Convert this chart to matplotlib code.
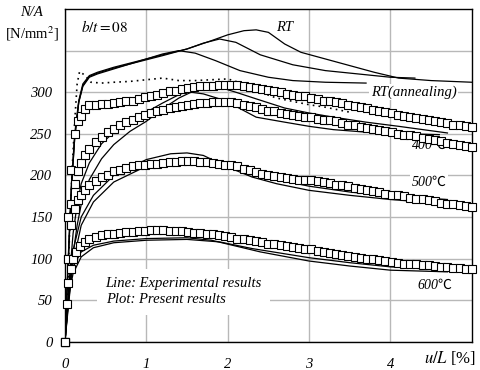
import matplotlib
matplotlib.use("Agg")
import matplotlib.pyplot as plt
import numpy as np

plt.rcParams["font.family"] = ["Liberation Serif", "Noto Sans CJK JP", "DejaVu Sans"]
plt.rcParams["mathtext.fontset"] = "stix"

# ---- experimental results (lines) ----
rt_a_u = [0, 0.04, 0.08, 0.12, 0.17, 0.22, 0.3, 0.4, 0.6, 0.8, 1.0, 1.2, 1.5, 1.8, 2.0, 2.2, 2.35, 2.5, 2.7, 2.9, 3.2, 3.5, 3.8, 4.1, 4.5, 5.0]
rt_a_y = [0, 100, 190, 250, 290, 310, 320, 324, 330, 335, 340, 345, 352, 362, 369, 374, 375, 372, 358, 348, 340, 332, 324, 317, 314, 312]
rt_b_u = [0, 0.04, 0.08, 0.12, 0.17, 0.22, 0.3, 0.4, 0.6, 0.8, 1.0, 1.2, 1.5, 1.7, 1.9, 2.1, 2.4, 2.8, 3.2, 3.6, 4.0, 4.3]
rt_b_y = [0, 95, 185, 245, 288, 308, 319, 323, 329, 334, 339, 344, 352, 359, 364, 360, 345, 333, 326, 322, 318, 317]
rt_c_u = [0, 0.04, 0.08, 0.12, 0.17, 0.22, 0.3, 0.4, 0.6, 0.8, 1.0, 1.2, 1.4, 1.6, 1.85, 2.15, 2.5, 2.8, 3.2, 3.7]
rt_c_y = [0, 95, 185, 245, 288, 307, 318, 322, 328, 334, 340, 346, 350, 347, 338, 326, 318, 314, 312, 311]

ann_u = [0, 0.03, 0.06, 0.09, 0.12, 0.15, 0.18, 0.25, 0.32, 0.45, 0.6, 0.8, 1.0, 1.2, 1.4, 1.6, 1.8, 2.0, 2.2, 2.4, 2.6, 2.8, 3.0, 3.2, 3.5]
ann_y = [0, 50, 140, 210, 265, 310, 325, 320, 312, 311, 312, 313, 315, 317, 314, 314, 315, 316, 310, 300, 293, 289, 285, 282, 276]

t400_a_u = [0, 0.05, 0.1, 0.15, 0.2, 0.3, 0.45, 0.6, 0.8, 1.0, 1.2, 1.4, 1.6, 1.75, 1.9, 2.1, 2.35, 2.7, 3.0, 3.3, 3.7, 4.1, 4.7]
t400_a_y = [0, 70, 130, 165, 190, 215, 238, 252, 266, 276, 287, 297, 305, 308, 306, 300, 292, 281, 275, 270, 264, 259, 251]
t400_b_u = [0, 0.05, 0.1, 0.15, 0.2, 0.3, 0.45, 0.6, 0.8, 1.0, 1.2, 1.4, 1.55, 1.7, 1.9, 2.1, 2.35, 2.7, 3.0, 3.3, 3.7, 4.2, 4.6]
t400_b_y = [0, 55, 105, 140, 165, 195, 220, 237, 253, 265, 280, 293, 300, 298, 292, 283, 270, 264, 259, 255, 252, 250, 249]

t500_a_u = [0, 0.05, 0.1, 0.2, 0.35, 0.6, 1.0, 1.3, 1.5, 1.7, 2.0, 2.3, 2.6, 3.0, 3.5, 4.0, 4.4]
t500_a_y = [0, 60, 110, 150, 176, 200, 219, 226, 227, 224, 210, 198, 190, 182, 176, 171, 168]
t500_b_u = [0, 0.05, 0.1, 0.2, 0.35, 0.6, 1.0, 1.4, 1.7, 2.0, 2.5, 3.0, 3.5, 4.0, 4.7]
t500_b_y = [0, 50, 95, 140, 168, 192, 211, 218, 218, 214, 197, 187, 180, 175, 171]

t600_a_u = [0, 0.03, 0.06, 0.1, 0.2, 0.35, 0.6, 1.0, 1.5, 1.8, 2.1, 2.4, 3.0, 3.5, 4.0, 4.7]
t600_a_y = [0, 40, 70, 90, 108, 116, 121, 124, 125, 122, 115, 108, 97, 91, 86, 84]
t600_b_u = [0, 0.03, 0.06, 0.1, 0.2, 0.35, 0.6, 1.0, 1.5, 1.9, 2.3, 3.0, 3.5, 4.0, 4.7]
t600_b_y = [0, 35, 62, 82, 102, 113, 119, 122, 123, 120, 112, 101, 95, 90, 86]

experiments = [
    (rt_a_u, rt_a_y), (rt_b_u, rt_b_y), (rt_c_u, rt_c_y),
    (t400_a_u, t400_a_y), (t400_b_u, t400_b_y),
    (t500_a_u, t500_a_y), (t500_b_u, t500_b_y),
    (t600_a_u, t600_a_y), (t600_b_u, t600_b_y),
]

# ---- present results (squares), 63 equal steps from u=0.3 to u=5.0 ----
early_u = [0, 0.04, 0.08, 0.12, 0.16, 0.2, 0.25]
steps_u = np.linspace(0.3, 5.0, 63)

m_ann_early = [0, 150, 207, 250, 265, 272, 280]
m_ann = [285, 285, 286, 286, 287, 288, 289, 290, 292, 294,
         296, 297, 299, 301, 302, 304, 305, 306, 307, 307,
         308, 309, 309, 309, 309, 308, 306, 305, 304, 303,
         301, 300, 298, 297, 296, 295, 293, 292, 290, 289,
         288, 287, 285, 284, 282, 281, 279, 278, 276, 275,
         273, 272, 270, 269, 268, 266, 265, 264, 263, 261,
         260, 259, 258]
m_400_early = [0, 100, 165, 190, 205, 215, 224]
m_400 = [232, 240, 246, 252, 256, 261, 264, 267, 270, 273,
         275, 277, 279, 281, 282, 284, 285, 286, 287, 287,
         288, 288, 288, 288, 287, 285, 284, 282, 280, 278,
         277, 275, 274, 273, 272, 270, 270, 268, 267, 266,
         265, 263, 261, 260, 258, 257, 256, 255, 253, 252,
         250, 249, 248, 247, 245, 244, 242, 241, 239, 238,
         237, 235, 234]
m_500_early = [0, 100, 140, 160, 170, 177, 183]
m_500 = [188, 193, 198, 201, 205, 207, 209, 211, 212, 213,
         214, 214, 215, 216, 216, 217, 217, 217, 216, 216,
         215, 214, 213, 212, 211, 208, 206, 204, 202, 201,
         199, 198, 197, 196, 195, 195, 194, 193, 192, 191,
         189, 188, 187, 185, 184, 182, 181, 180, 178, 177,
         176, 175, 173, 172, 171, 170, 169, 167, 166, 165,
         164, 163, 162]
m_600_early_u = [0, 0.02, 0.04, 0.07, 0.1, 0.14, 0.19, 0.25]
m_600_early = [0, 45, 70, 88, 100, 108, 115, 120]
m_600 = [123, 126, 128, 129, 130, 131, 132, 132, 133, 133,
         134, 134, 134, 133, 133, 133, 132, 131, 131, 130,
         129, 128, 127, 126, 124, 123, 122, 121, 120, 118,
         117, 116, 115, 114, 113, 112, 111, 109, 108, 107,
         105, 104, 103, 102, 101, 100, 99, 98, 97, 96,
         95, 94, 94, 93, 92, 92, 91, 90, 90, 89,
         89, 88, 88]

models = [
    (early_u, m_ann_early, m_ann),
    (early_u, m_400_early, m_400),
    (early_u, m_500_early, m_500),
    (m_600_early_u, m_600_early, m_600),
]

fig = plt.figure(figsize=(4.81, 3.70), dpi=100)
ax = fig.add_axes([0.135, 0.0765, 0.846, 0.899])

ax.set_xlim(0, 5)
ax.set_ylim(0, 400)
ax.set_xticks([0, 1, 2, 3, 4])
ax.set_xticklabels(["0", "1", "2", "3", "4"])
ax.set_yticks([0, 50, 100, 150, 200, 250, 300, 350])
ax.set_yticklabels(["0", "50", "100", "150", "200", "250", "300", ""])
ax.tick_params(length=0, labelsize=10.5)
ax.tick_params(axis="x", pad=12)
ax.tick_params(axis="y", pad=9)
for lab in ax.get_xticklabels() + ax.get_yticklabels():
    lab.set_fontstyle("italic")
ax.grid(True, color="#b8b8b8", linewidth=1.0)
ax.set_axisbelow(True)
for s in ax.spines.values():
    s.set_linewidth(1.0)

for u, y in experiments:
    ax.plot(u, y, color="black", linewidth=0.9, zorder=3)
ax.plot(ann_u, ann_y, color="black", linewidth=1.2, linestyle=(0, (1, 2.5)), zorder=3)

for eu, ey, sy in models:
    ax.plot(list(eu) + list(steps_u), list(ey) + list(sy), linestyle="none", marker="s",
            markersize=5.1, markerfacecolor="white", markeredgecolor="black",
            markeredgewidth=0.8, zorder=4, clip_on=False)

box = dict(facecolor="white", edgecolor="none", pad=1)
ax.text(0.2, 378, r"$b/t=\mathrm{08}$", fontsize=11, va="center")
ax.text(2.6, 378, "RT", fontsize=10.5, style="italic", va="center", zorder=2)
ax.text(3.76, 300, "RT(annealing)", fontsize=10.5, style="italic", va="center", bbox=box, zorder=2)
ax.text(4.26, 236, "400℃", fontsize=10, style="italic", va="center", zorder=2)
ax.text(4.26, 192, "500℃", fontsize=10, style="italic", va="center", bbox=box, zorder=2)
ax.text(4.33, 68, "600℃", fontsize=10, style="italic", va="center", bbox=box, zorder=2)
ax.text(0.5, 60, "Line: Experimental results\nPlot: Present results", fontsize=10.5,
        style="italic", va="center", linespacing=1.3,
        bbox=dict(facecolor="white", edgecolor="none", pad=6), zorder=2)

fig.text(0.066, 0.965, "N/A", fontsize=10.5, style="italic", ha="center", va="center")
fig.text(0.066, 0.91, "[N/mm$^2$]", fontsize=10.5, ha="center", va="center")
fig.text(0.99, 0.032, "$u/L$ [%]", fontsize=12, ha="right", va="center")

fig.savefig("out.png", dpi=100)
